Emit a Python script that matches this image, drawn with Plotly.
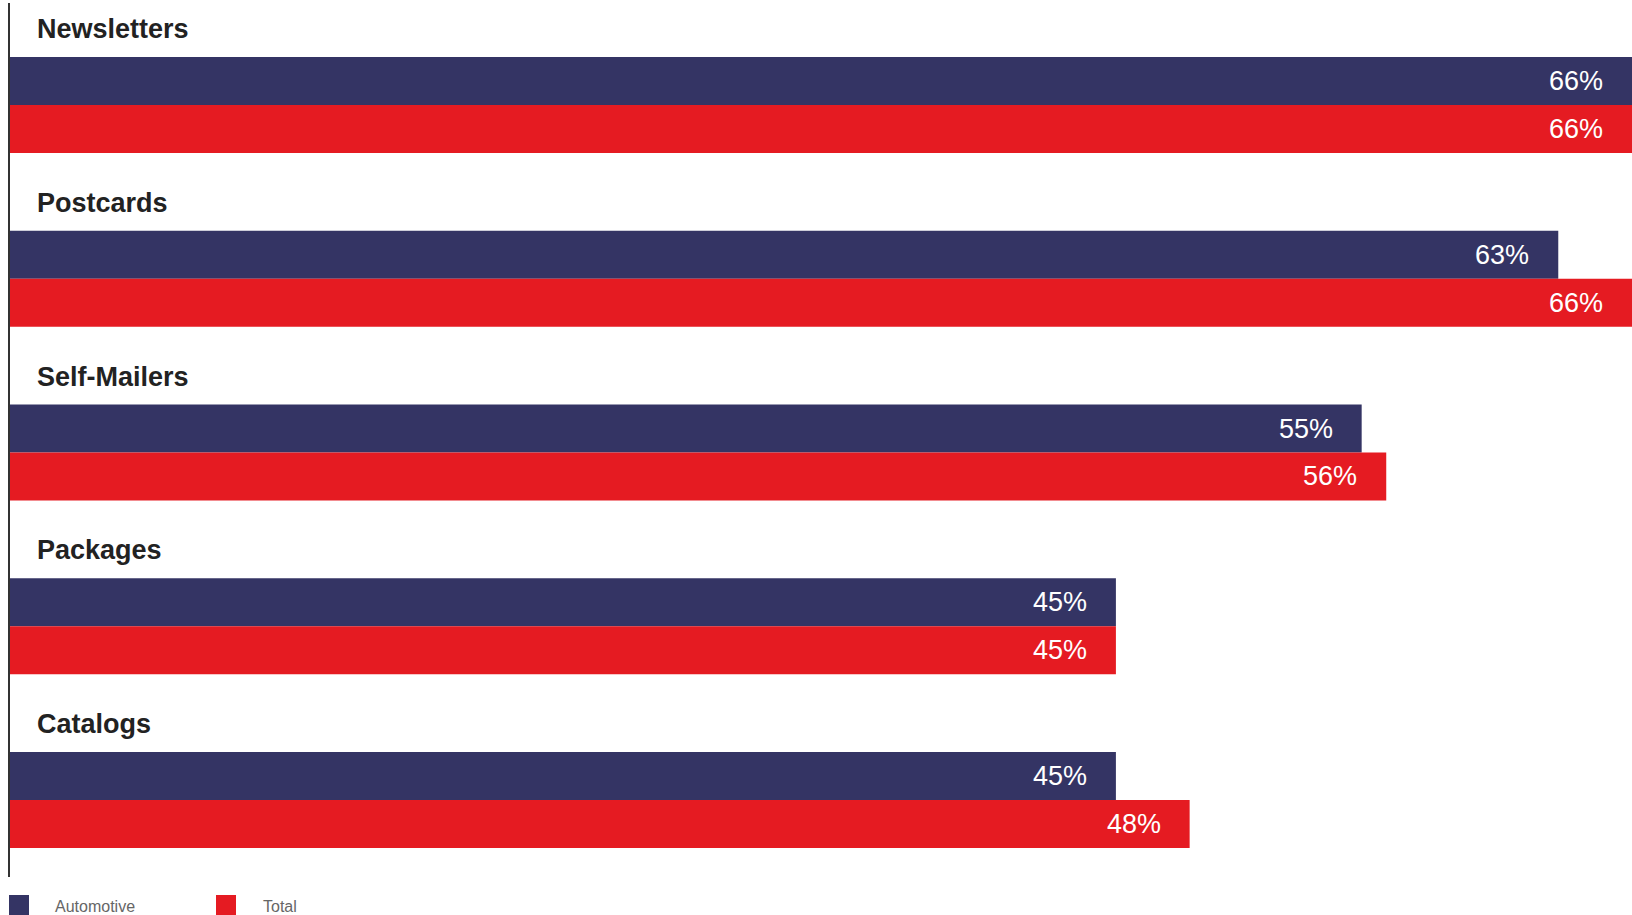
import plotly.graph_objects as go

# Mail formats and their shares
categories = ["Newsletters", "Postcards", "Self-Mailers", "Packages", "Catalogs"]
automotive = [66, 63, 55, 45, 45]
total = [66, 66, 56, 45, 48]
series_names = ["Automotive", "Total"]
colors = ["#343464", "#E51B22"]

W, H = 1632, 915
M_L, M_R, M_T, M_B = 10, 0, 3, 38
PW, PH = W - M_L - M_R, H - M_T - M_B

ypos = list(range(len(categories)))


def px_x(px):
    return (px - M_L) / PW


def px_y(py):
    return (H - M_B - py) / PH


fig = go.Figure()
for name, vals, col in zip(series_names, [automotive, total], colors):
    fig.add_trace(go.Bar(
        y=ypos, x=vals, orientation="h", name=name,
        marker=dict(color=col, line=dict(width=0)),
        showlegend=False, hoverinfo="skip",
    ))

annotations = []
# category headings above each pair of bars
for i, cat in enumerate(categories):
    annotations.append(dict(
        x=0, y=i, xref="x", yref="y", text=f"<b>{cat}</b>",
        xanchor="left", yanchor="middle", xshift=25, yshift=76,
        showarrow=False,
        font=dict(family="Liberation Sans, Arial, sans-serif", size=27, color="#222222"),
    ))

# value labels inside the bar ends
offsets = [0.138, -0.138]
for vals, off in zip([automotive, total], offsets):
    for i, v in enumerate(vals):
        annotations.append(dict(
            x=v, y=i, xref="x", yref="y", text=f"{v}%",
            xanchor="right", yanchor="middle", xshift=-27, yshift=off * 173.75,
            showarrow=False,
            font=dict(family="Liberation Sans, Arial, sans-serif", size=27, color="#ffffff"),
        ))

# legend drawn as swatches with captions
shapes = []
legend_x = [9, 216]
text_x = [53, 261]
for name, col, lx, tx in zip(series_names, colors, legend_x, text_x):
    shapes.append(dict(
        type="rect", xref="paper", yref="paper",
        x0=px_x(lx), x1=px_x(lx + 20), y0=px_y(915), y1=px_y(895),
        fillcolor=col, line=dict(width=0),
    ))
    annotations.append(dict(
        x=px_x(tx), y=px_y(906), xref="paper", yref="paper", text=name,
        xanchor="left", yanchor="middle", showarrow=False,
        font=dict(family="Liberation Sans, Arial, sans-serif", size=16, color="#666666"),
    ))

fig.update_layout(
    width=W, height=H,
    margin=dict(l=M_L, r=M_R, t=M_T, b=M_B, pad=0),
    paper_bgcolor="white", plot_bgcolor="white",
    barmode="group", bargap=1 - 96 / 173.75, bargroupgap=0,
    xaxis=dict(range=[0, 66], visible=False, fixedrange=True),
    yaxis=dict(
        range=[4 + 77 / 173.75, -102 / 173.75],
        showticklabels=False, showgrid=False, zeroline=False,
        showline=True, linewidth=2, linecolor="#333333", ticks="",
        fixedrange=True,
    ),
    annotations=annotations, shapes=shapes,
    showlegend=False,
)

fig.write_html("out.html", config={"displayModeBar": False})
